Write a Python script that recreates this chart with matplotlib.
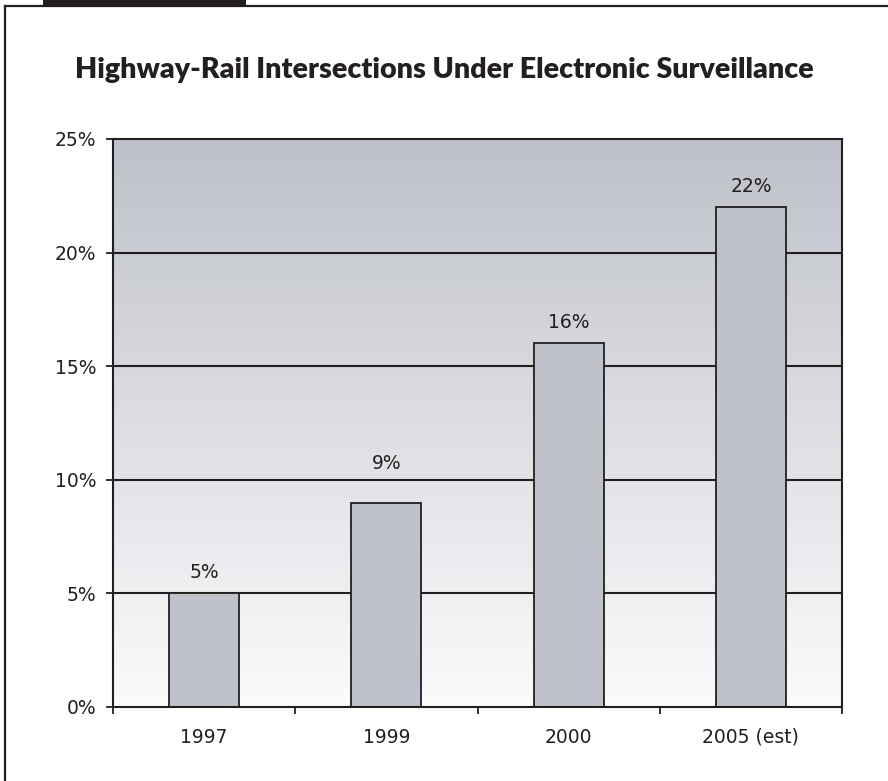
"""
Highway-Rail intersections under electronic surveillance - bar chart.
"""
import numpy as np
import matplotlib
matplotlib.use("Agg")
import matplotlib.pyplot as plt
import matplotlib.colors as mcolors
from matplotlib.patches import Rectangle
from matplotlib.lines import Line2D

# ---------------------------------------------------------------------------
# Data
# ---------------------------------------------------------------------------
years  = ["1997", "1999", "2000", "2005 (est)"]
shares = [5, 9, 16, 22]              # percent
y_ticks = [0, 5, 10, 15, 20, 25]
TITLE = "Highway-Rail Intersections Under Electronic Surveillance"

# ---------------------------------------------------------------------------
# Style
# ---------------------------------------------------------------------------
INK      = "#231f20"
BAR_CLR  = "#c0c2cb"
GRAD_TOP = "#bec1c9"
GRAD_BOT = "#fbfbfc"
W, H     = 888, 781
FS       = 13.5
LABEL_LIFT = [11, 24, 11, 11]        # pt above bar top (9% sits above gridline)

plt.rcParams["font.family"] = ["DejaVu Sans"]

fig = plt.figure(figsize=(W / 100, H / 100), dpi=100, facecolor="white")

# axes box in pixel coords: x 113..842, y 139..707 (from top)
ax = fig.add_axes([113 / W, (H - 707) / H, (842 - 113) / W, (707 - 139) / H])

x = np.arange(len(years))
ax.set_xlim(-0.5, len(years) - 0.5)
ax.set_ylim(0, 25)

# vertical gradient background
cmap = mcolors.LinearSegmentedColormap.from_list("bg", [GRAD_BOT, GRAD_TOP])
grad = np.linspace(0, 1, 256).reshape(-1, 1)
ax.imshow(grad, cmap=cmap, aspect="auto", origin="lower",
          extent=[-0.5, len(years) - 0.5, 0, 25], zorder=0, interpolation="bicubic")

# gridlines
for yv in y_ticks[1:-1]:
    ax.axhline(yv, color=INK, lw=1.5, zorder=1)

ax.bar(x, shares, width=0.385, color=BAR_CLR, edgecolor=INK, linewidth=1.3, zorder=2)

for xi, v, lift in zip(x, shares, LABEL_LIFT):
    ax.annotate(f"{v}%", (xi, v), xytext=(0, lift), textcoords="offset points",
                ha="center", va="baseline", fontsize=FS, color=INK, zorder=3)

# axes styling
for sp in ax.spines.values():
    sp.set_color(INK)
    sp.set_linewidth(1.5)
    sp.set_zorder(4)

ax.set_yticks(y_ticks)
ax.set_yticklabels([f"{v}%" for v in y_ticks])
ax.tick_params(axis="y", direction="out", length=5, width=1.3, color=INK,
               labelsize=FS, labelcolor=INK, pad=7)

ax.set_xticks(np.arange(-0.5, len(years)), minor=False)
ax.set_xticklabels([])
ax.set_xticks(x, minor=True)
ax.set_xticklabels(years, minor=True)
ax.tick_params(axis="x", which="major", direction="out", length=5, width=1.3,
               color=INK)
ax.tick_params(axis="x", which="minor", length=0, labelsize=FS,
               labelcolor=INK, pad=15)

# title, fitted to the reference width (~740 px)
title = fig.text(0.5, 1 - 70 / H, TITLE, ha="center", va="center",
                 fontsize=20, fontweight="heavy", family=["Lato", "DejaVu Sans"],
                 color=INK)
fig.canvas.draw()
tw = title.get_window_extent().width
title.set_fontsize(20 * 740 / tw)

# page frame and black tab
fig.add_artist(Line2D([5 / W, 1.0], [1 - 6 / H, 1 - 6 / H],
                      transform=fig.transFigure, color=INK, lw=1.6))
fig.add_artist(Line2D([5 / W, 5 / W], [0.0, 1 - 6 / H],
                      transform=fig.transFigure, color=INK, lw=1.6))
fig.add_artist(Rectangle((43 / W, 1 - 5 / H), (246 - 43) / W, 5 / H,
                         transform=fig.transFigure, facecolor=INK,
                         edgecolor="none"))

fig.savefig("out.png", dpi=100, facecolor="white")
plt.close(fig)
